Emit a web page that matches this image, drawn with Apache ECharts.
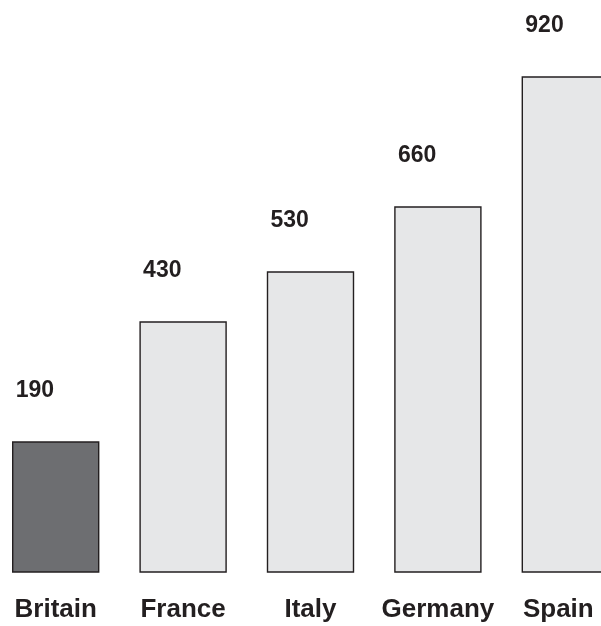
<!DOCTYPE html>
<html>
<head>
<meta charset="utf-8">
<script src="https://cdn.jsdelivr.net/npm/echarts@6/dist/echarts.min.js"></script>
<style>
  html, body { margin: 0; padding: 0; background: #ffffff; overflow: hidden; width: 601px; height: 626px; }
  /* plot runs a little past both page edges, so the last bar is cut off on the right */
  #chart { width: 637px; height: 626px; margin-left: -8px; }
</style>
</head>
<body>
<div id="chart"></div>
<script>
// Countries along the bottom and the amount for each
const countries = ['Britain', 'France', 'Italy', 'Germany', 'Spain'];
const amounts = [190, 430, 530, 660, 920];

// Value scale: bars rise from the bottom of the plot (axis floor below zero)
const Y_MIN = -70;
const Y_MAX = 1074;

const INK = '#231f20';
const DARK_FILL = '#6d6e71';
const LIGHT_FILL = '#e6e7e8';
const FONT = '"Liberation Sans", Arial, Helvetica, sans-serif';

const chart = echarts.init(document.getElementById('chart'), null, { renderer: 'canvas' });

chart.setOption({
  animation: false,
  backgroundColor: '#ffffff',
  grid: { left: 0, right: 0, top: 0, bottom: 54 },
  xAxis: {
    type: 'category',
    data: countries,
    axisLine: { show: false },
    axisTick: { show: false },
    axisLabel: {
      interval: 0,
      margin: 25,
      color: INK,
      fontFamily: FONT,
      fontWeight: 'bold',
      fontSize: 26,
      // keep the last name inside the page edge
      formatter: (name, i) => (i === countries.length - 1 ? '{edge|' + name + '}' : name),
      rich: {
        edge: {
          color: INK,
          fontFamily: FONT,
          fontWeight: 'bold',
          fontSize: 26,
          padding: [0, 14, 0, 0]
        }
      }
    }
  },
  yAxis: {
    type: 'value',
    min: Y_MIN,
    max: Y_MAX,
    show: false,
    splitLine: { show: false }
  },
  series: [{
    type: 'custom',
    clip: false,
    data: countries.map((c, i) => [i, amounts[i]]),
    renderItem(params, api) {
      const idx = api.value(0);
      const val = api.value(1);
      const top = api.coord([idx, val]);
      const base = api.coord([idx, Y_MIN]);
      const w = api.size([1, 0])[0] * 0.675;
      const left = top[0] - w / 2;
      return {
        type: 'group',
        children: [
          {
            type: 'rect',
            shape: { x: left, y: top[1], width: w, height: base[1] - top[1] },
            style: { fill: idx === 0 ? DARK_FILL : LIGHT_FILL, stroke: INK, lineWidth: 1.4 }
          },
          {
            type: 'text',
            style: {
              text: String(val),
              x: left + 3,
              y: top[1] - 51,
              align: 'left',
              verticalAlign: 'middle',
              fill: INK,
              font: 'bold 23px ' + FONT
            }
          }
        ]
      };
    }
  }]
});
</script>
</body>
</html>
